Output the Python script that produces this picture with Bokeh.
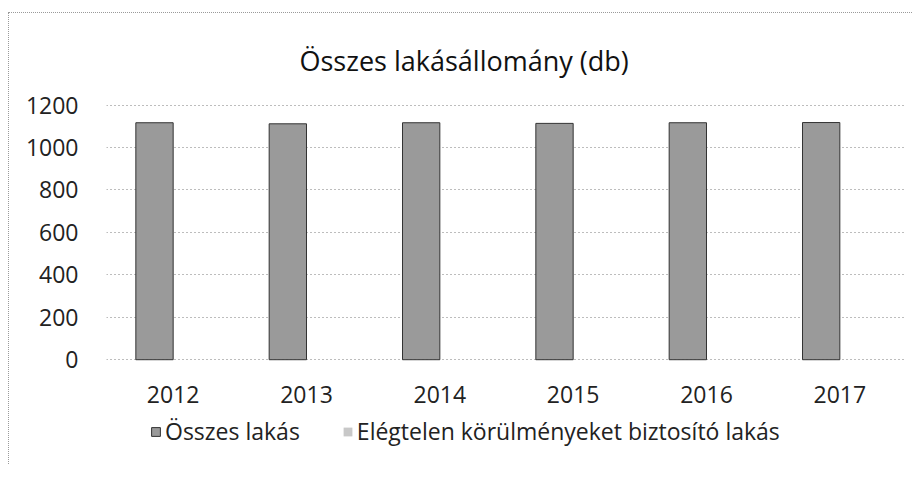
from bokeh.plotting import figure
from bokeh.models import ColumnDataSource, Legend, LegendItem, FactorRange
from bokeh.transform import dodge
from bokeh.embed import file_html
from bokeh.resources import INLINE

years = ["2012", "2013", "2014", "2015", "2016", "2017"]
osszes = [1117, 1112, 1117, 1114, 1117, 1118]
elegtelen = [0, 0, 0, 0, 0, 0]
y_ticks = [0, 200, 400, 600, 800, 1000, 1200]

src = ColumnDataSource(dict(year=years, osszes=osszes, elegtelen=elegtelen))

FONT = "Open Sans"

# frame extends below the zero line to host the legend (legend is inside frame)
p = figure(x_range=FactorRange(*years), y_range=(-428, 1203), width=904, height=452,
           output_backend="svg", toolbar_location=None,
           min_border_left=97, min_border_right=7, min_border_top=91, min_border_bottom=15)
p.title.text = "Összes lakásállomány (db)"
p.title.align = "left"
p.title.offset = 193
p.title.standoff = 52
p.title.text_font = FONT
p.title.text_font_size = "27px"
p.title.text_font_style = "normal"
p.title.text_color = "#111111"

r1 = p.vbar(x=dodge("year", -0.14, range=p.x_range), top="osszes", width=0.28, source=src,
            fill_color="#9a9a9a", line_color="#333333", line_width=1)
r2 = p.vbar(x=dodge("year", 0.14, range=p.x_range), top="elegtelen", width=0.28, source=src,
            fill_color="#c8c8c8", line_color=None)

p.yaxis.ticker = y_ticks
p.yaxis.axis_line_color = None
p.yaxis.major_tick_line_color = None
p.yaxis.minor_tick_line_color = None
p.yaxis.major_label_standoff = 22
p.yaxis.major_label_text_font = FONT
p.yaxis.major_label_text_font_size = "23px"
p.yaxis.major_label_text_color = "#222222"

p.xaxis.axis_line_color = None
p.xaxis.major_tick_line_color = None
p.xaxis.major_tick_out = 0
p.xaxis.major_tick_in = 0
p.xaxis.major_label_standoff = -65
p.xaxis.major_label_text_font = FONT
p.xaxis.major_label_text_font_size = "23px"
p.xaxis.major_label_text_color = "#222222"

p.xgrid.grid_line_color = None
p.ygrid.grid_line_color = "#7a7a7a"
p.ygrid.grid_line_dash = "1 3"
p.ygrid.grid_line_width = 1
p.outline_line_color = None

legend = Legend(items=[LegendItem(label="Összes lakás", renderers=[r1]),
                       LegendItem(label="Elégtelen körülményeket biztosító lakás", renderers=[r2])],
                orientation="horizontal", location=(44, 3),
                label_text_font=FONT, label_text_font_size="23px", label_text_color="#222222",
                glyph_width=11, glyph_height=11, spacing=42, label_standoff=4,
                border_line_color=None, background_fill_alpha=0, margin=0, padding=0)
p.add_layout(legend, "center")

p.styles = {"border-left": "1px dotted #9a9a9a", "border-top": "1px dotted #9a9a9a",
            "margin-left": "8px", "margin-top": "12px"}

open("out.html", "w").write(file_html(p, INLINE))
